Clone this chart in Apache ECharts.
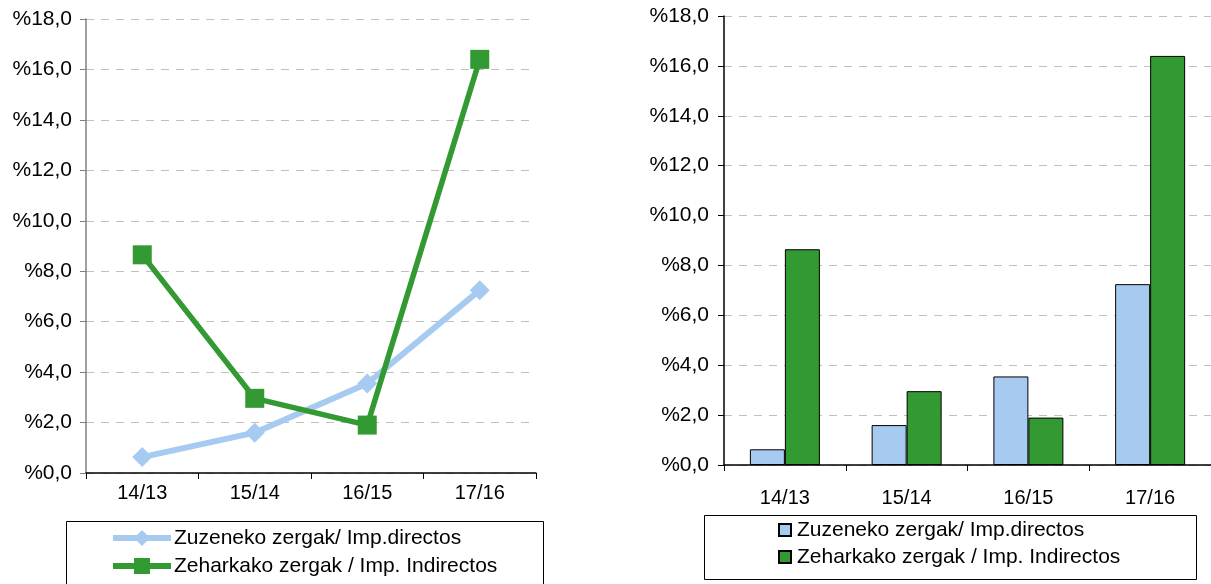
<!DOCTYPE html>
<html>
<head>
<meta charset="utf-8">
<script src="https://cdn.jsdelivr.net/npm/echarts@6/dist/echarts.min.js"></script>
<style>html,body{margin:0;padding:0;background:#fff}#c{width:1211px;height:584px}</style>
</head>
<body>
<div id="c"></div>
<script>
const categories = ['14/13', '15/14', '16/15', '17/16'];
const directName = 'Zuzeneko zergak/ Imp.directos';
const indirectName = 'Zeharkako zergak / Imp. Indirectos';
const directValues = [0.63, 1.6, 3.55, 7.25];
const indirectValues = [8.65, 2.96, 1.9, 16.4];
const yTicks = [0, 2, 4, 6, 8, 10, 12, 14, 16, 18];

const BLUE = '#A6CAF0';
const GREEN = '#339933';
const FONT = '"Liberation Sans", Arial, sans-serif';
const fmt = v => '%' + v.toFixed(1).replace('.', ',');

const chart = echarts.init(document.getElementById('c'), null, {renderer: 'canvas'});

function yAxis(gridIndex, lineColor, margin) {
  return {
    type: 'value', gridIndex: gridIndex,
    min: yTicks[0], max: yTicks[yTicks.length - 1], interval: yTicks[1] - yTicks[0],
    axisLine: {show: true, lineStyle: {color: lineColor, width: 1.5}},
    axisTick: {show: true, length: 6, lineStyle: {color: lineColor}},
    axisLabel: {formatter: fmt, color: '#000', fontSize: 21, fontFamily: FONT, margin: margin},
    splitLine: {show: true, lineStyle: {color: '#c0c0c0', type: [8, 7], width: 1}}
  };
}
function xAxis(gridIndex, margin) {
  return {
    type: 'category', gridIndex: gridIndex, data: categories, boundaryGap: true,
    axisLine: {show: true, lineStyle: {color: '#000', width: 1.5}},
    axisTick: {show: true, length: 6, alignWithLabel: false, lineStyle: {color: '#000'}},
    axisLabel: {color: '#000', fontSize: 20, fontFamily: FONT, margin: margin},
    splitLine: {show: false}
  };
}

const barPrefix = 'bar:';

chart.setOption({
  animation: false,
  backgroundColor: '#fff',
  textStyle: {fontFamily: FONT},
  grid: [
    {left: 86, right: 675, top: 19, bottom: 111},
    {left: 724, right: 0, top: 16, bottom: 119}
  ],
  xAxis: [xAxis(0, 10), xAxis(1, 23)],
  yAxis: [yAxis(0, '#808080', 14), yAxis(1, '#000', 15)],
  graphic: [
    {type: 'rect', shape: {x: 66.5, y: 521.5, width: 477, height: 70}, style: {fill: '#fff', stroke: '#000', lineWidth: 1}, z: 0},
    {type: 'rect', shape: {x: 704.5, y: 515.5, width: 492, height: 64}, style: {fill: '#fff', stroke: '#000', lineWidth: 1}, z: 0}
  ],
  legend: [
    {
      orient: 'vertical', left: 110, top: 527, padding: 0, itemGap: 6,
      itemWidth: 58, itemHeight: 20,
      data: [directName, indirectName],
      lineStyle: {width: 6},
      textStyle: {color: '#000', fontSize: 21, fontFamily: FONT, lineHeight: 22, padding: [0, 0, 0, -2]},
      selectedMode: false, z: 5
    },
    {
      orient: 'vertical', left: 778, top: 519, padding: 0, itemGap: 5,
      itemWidth: 12, itemHeight: 12, icon: 'rect',
      data: [barPrefix + directName, barPrefix + indirectName],
      formatter: n => n.slice(barPrefix.length),
      textStyle: {color: '#000', fontSize: 21, fontFamily: FONT, lineHeight: 22, padding: [0, 0, 0, 1]},
      selectedMode: false, z: 5
    }
  ],
  series: [
    {
      name: directName, type: 'line', xAxisIndex: 0, yAxisIndex: 0, data: directValues,
      symbol: 'diamond', symbolSize: 20,
      lineStyle: {color: BLUE, width: 6}, itemStyle: {color: BLUE}, z: 3
    },
    {
      name: indirectName, type: 'line', xAxisIndex: 0, yAxisIndex: 0, data: indirectValues,
      symbol: 'rect', symbolSize: 19,
      lineStyle: {color: GREEN, width: 5.5}, itemStyle: {color: GREEN}, z: 4
    },
    {
      name: barPrefix + directName, type: 'bar', xAxisIndex: 1, yAxisIndex: 1, data: directValues,
      barWidth: 35, barGap: '0%',
      itemStyle: {color: BLUE, borderColor: '#000', borderWidth: 1}
    },
    {
      name: barPrefix + indirectName, type: 'bar', xAxisIndex: 1, yAxisIndex: 1, data: indirectValues,
      barWidth: 35, barGap: '0%',
      itemStyle: {color: GREEN, borderColor: '#000', borderWidth: 1}
    }
  ]
});
</script>
</body>
</html>
